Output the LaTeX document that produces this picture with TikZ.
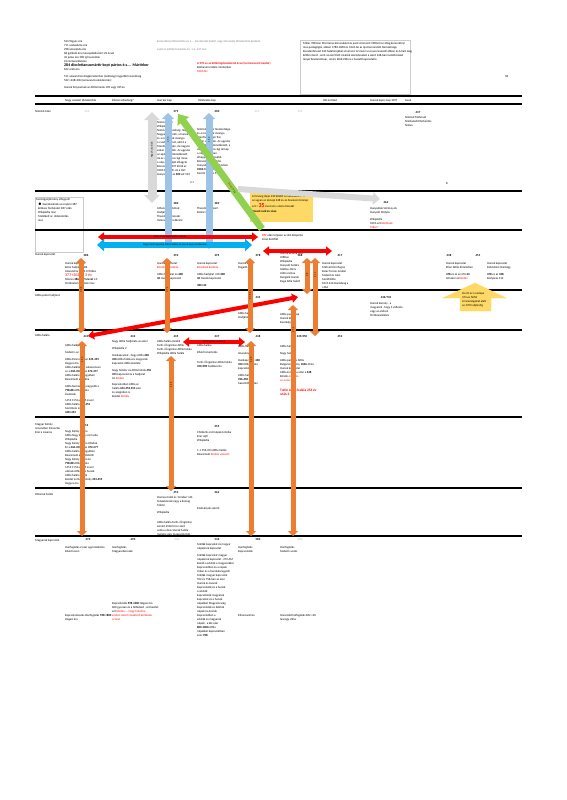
\documentclass[tikz,border=0pt]{standalone}
\usepackage{fontspec}
\setmainfont{Carlito}
\usetikzlibrary{arrows.meta}
\definecolor{orangeA}{HTML}{ED7D31}
\definecolor{blueA}{HTML}{9DC3E6}
\definecolor{cyanA}{HTML}{00B0F0}
\definecolor{greenA}{HTML}{92D050}
\definecolor{greyA}{HTML}{D9D9D9}
\definecolor{yellowA}{HTML}{FFD966}
\definecolor{redA}{HTML}{FF0000}
\newcommand\tinyf{\fontsize{3}{4}\selectfont}

\begin{document}
\begin{tikzpicture}[x=1pt,y=-1pt,
        bar/.style={line width=2.4pt, black},
        thinbar/.style={line width=1.5pt, black},
        txt/.style={anchor=north west, inner sep=0pt, align=left, font=\tinyf},
        yr/.style={anchor=base, inner sep=0pt, font=\tinyf\bfseries},
        gyr/.style={anchor=base, inner sep=0pt, font=\tinyf, text=gray!60},
        rtxt/.style={txt, text=redA},
        orangearr/.style={line width=5pt, draw=orangeA,
          {Triangle[width=10pt,length=5pt]}-{Triangle[width=10pt,length=5pt]}},
        bluearr/.style={line width=7pt, draw=blueA,
          {Triangle[width=12pt,length=6pt]}-{Triangle[width=12pt,length=6pt]}},
        redarr/.style={line width=4pt, draw=redA,
          {Triangle[width=9pt,length=6pt]}-{Triangle[width=9pt,length=6pt]}},
        intext/.style={inner sep=0pt, font=\fontsize{2.5}{3}\selectfont},
        ]
        \useasboundingbox (0,0) rectangle (566,800);

        % header
        \node (eras) [txt] at (64,40) {523 Tógyes éra\\711 szabadulás éra\\298 amszánda éra\\
          68 gyilkoló éra mesepaládismert 22 évvel\\45 julius éra 300 ig hasonlóak\\0 krisztusszületése\\
          {\fontsize{4}{5}\selectfont\bfseries 284 diocletianusmártír kopt pártos é.s.... Mártírkor}\\
          622 arab éra\\[3pt]511 alexandriai világkorszámítás (zsidóság) nagyobb hasonlóság\\
          532 +248+284 (annuszulis ekvidenciás)\\[3pt]Hunok fenyesének az Attila halála 109 vagy 335 év};
        \node (note) [txt, text=gray] at (157,40) {keresztényi időszámítás és a ... leszámolás hadát, vagy elnevezés időszámítás kezdete};
        \node (note2) [txt, text=gray] at (157,48) {sajat az juttató hivatalos év. 1.e. 147 évn};
        \node (rednote) [rtxt, font=\tinyf\bfseries] at (197,62) {A 970-es az kötéstégdatoskonid évvel (az összevont kezdet)};
        \node (rednote2) [txt] at (197,66) {Kézhasznú tétele mindenkor};
        \node (rednote3) [rtxt] at (197,70) {1000 AH};
        \draw[gray!40] (300,40) rectangle (410,94);
        \node (box) [txt] at (303,42) {Miller 398-ban Marcianus kizsaruként és pont Ammiant 398-ból az átlag keresztényi\\
          rész-pedagógiai, abban 1780-1800 és 1024-be az újat lemondott Nemzetsége\\
          Konstantinuszt 340 hatalomjábal a hamvet 12 évvel a uccsai nevezett abban és 6 halt meg\\
          kétfeni teret , amit az ezért lett elvárók szerzeteseket a szent 248-ban tudottrésszel\\
          lenyerbeszámolásai , amire több 238-ra a hasadt kapcsolatra};
        \node (n58) [txt] at (505,75) {58};

        % top double bar
        \draw[bar] (35,96) -- (522,96);
        \draw[bar] (35,104) -- (522,104);
        \node (h1) [txt] at (65,99) {Nagy császári időszámítás};
        \node (h2) [txt] at (112,99) {Római szövetség?};
        \node (h3) [txt] at (157,99) {Hun kor kap};
        \node (h4) [txt] at (198,99) {Változatos kap};
        \node (h5) [txt] at (323,99) {Hét évtized};
        \node (h6) [txt] at (370,99) {Hunok kapcs kap 1097};
        \node (h7) [txt] at (405,99) {Avuk};

        % row 1
        \node (r1) [txt] at (35,110) {Nimród isten};
        \node (y343) [gyr] at (87,112) {343};
        \node (y375) [yr] at (176,112) {375};
        \node (y400) [yr] at (217,112) {400};
        \node (y410) [gyr] at (257,112) {410};
        \node (y423) [gyr] at (300,112) {423};
        \node (y437) [yr] at (418,113) {437};
        \node (t437) [txt] at (405,116) {Nimród Mahmud\\Nimbuledi Khoherdes\\Nimes};
        \node (t375) [txt] at (157,121) {Nimród isten\\Wikipédia\\Nimród Nemzetség: Nagyon\\Nagyanyó: Enéh, a hunok\\
          és a magyarok ősanyja\\a csodaszarvast, akit ő a\\Meotisz földjén, de nagyon\\sokan szerették. Az ugyanis\\
          az apáknál eltemetkezett\\de ez a szép és régi mese\\a nép őshazáját elhagyta\\Borsod-ban 397 körül az\\
          1000 AD előtt, Az a tört\\Hunyadi hát az {\bfseries 400} ezt 533};
        \node (t400) [txt] at (197,128) {Nimród Hunor Nemzetsége\\és a magyarok ősanyja\\Meotisz, Magor fiai\\
          sokan szerették. Az ugyanis\\az apáknál eltemetkezett, a\\de ez a szép és régi ünnep\\a nép Szkítiában\\
          elhagyták. A tovább\\Borsod-ban Levédia\\Hunyadi ezt az 533 évben\\{\bfseries 1000} 400 ez 533\\
          Szerint az {\bfseries 4} és 533 {\color{redA}(35)}};
        \node (n41) [txt] at (190,181) {4 1};

        % row 2
        \draw[bar] (35,191) -- (522,191);
        \node (n8) [txt] at (446,182) {8};
        \draw[gray!40] (35,197) rectangle (83,252);
        \node (r2) [txt] at (36,198) {Szerzőgyűjtemény elfogyott};
        \node (t2box) [txt] at (38,203) {$\bullet$ Szerzőseknek az enyémi 387\\kétéves fordulatot 387 után\\
          Wikipédia rész\\Mellékelt sz. időszámítás\\rész};
        \node (y380) [yr] at (176,204) {380};
        \node (t380) [txt] at (157,207) {Athanariksz Gótok\\Hadjárat\\Theodosius császár\\Valens/Gothia Bizánc};
        \node (y389) [yr] at (217,204) {389};
        \node (t389) [txt] at (197,207) {Theodosius Szent\\Bizánci rész};
        \node (y462) [yr] at (386,203) {462};
        \node (t462) [txt] at (370,207) {Hunyadiak Szirmay-ok\\Hunyadi Mátyás\\[3pt]Wikipédia\\
          1001-ezt {\color{redA}Kérdések}\\{\color{redA}Mikor?}};
        \draw[fill=yellowA, draw=yellowA] (250,193) rectangle (312,221);
        \node (ybox) [txt] at (252,195) {A farsang ideje 430 között az időszakban , ebben\\
          az ugyan az ünnepi 248 és az összevont ünnep\\[1pt]
          ezt = {\fontsize{6}{6}\selectfont\bfseries\color{redA}35} évet az is a kora hosszát\\[1pt]
          {\bfseries Húsvét cuik és vissz.}};

        % row 3
        \draw[bar] (35,230) -- (522,230);
        \node (t377) [txt] at (262,234) {{\color{redA}\bfseries 377} után teljesen az idő-központú\\Zeno Konflikt};
        \node (r3) [txt] at (35,253) {Hunok kapcsolat};
        \node (y386) [yr] at (86,256) {386};
        \node (y392) [yr] at (176,256) {392};
        \node (y395) [yr] at (217,256) {395};
        \node (y378) [yr] at (258,256) {378};
        \node (y388) [yr] at (300,256) {388};
        \node (y417) [yr] at (340,256) {417};
        \node (y438) [yr] at (449,256) {438};
        \node (y451) [yr] at (478,256) {451};
        \node (t386) [txt] at (65,262) {Hunok kapcsolat\\Kérai hadjárat 386\\Alexandria 386 413 Tőkés\\
          {\fontsize{4}{5}\selectfont\color{redA}377+3024 = 3 év}\\Sikeres {\bfseries 386+32,5 évvel} 1.0\\
          történelem kezdete rész};
        \node (t392) [txt] at (157,262) {Hunok kapcsolat\\{\color{redA}Kérdések kezdete}\\[3pt]
          Attila hadjárat és {\bfseries 408}\\{\bfseries 40} Hunok kapcsolat};
        \node (t395) [txt] at (197,262) {Hunok kapcsolat\\{\color{redA}Kérdések kezdete}\\[3pt]
          Attila hadjárat 410 {\bfseries 408}\\{\bfseries 40} Hunok kapcsolat\\[3pt]{\bfseries 380+40}};
        \node (t378) [txt] at (238,262) {Hunok kapcs\\Dagadó};
        \node (t388) [txt] at (280,252) {Hunok uralma alatt\\Ulfilász\\Wikipédia\\Hunyadi halálra\\Gótikus törzs\\
          Uldin és Rua\\Dengizik Hunok\\Ruga Atila halott};
        \node (t417) [txt] at (322,262) {Hunok kapcsolat\\Michael Dé Magna\\Kalaz Tarcan Jenkon\\Szabolt és Alan\\
          Szentföldre\\1041 446 Hunádság a\\+464};
        \node (t438) [txt] at (446,262) {Hunok kapcsolat\\Ellen Attila Kíméletlen\\[3pt]
          {\bfseries 478} ez ez ez 476 {\bfseries 44}\\tetszeni az {\color{redA}Kérdés}};
        \node (t451) [txt] at (487,262) {Hunok kapcsolat\\Rohodaim Hunkágy\\[3pt]
          {\bfseries 478} ez az {\bfseries 438}\\Kedyárás 412};

        % row 4
        \draw[bar] (35,290) -- (522,290);
        \node (r4) [txt] at (35,294) {Attila-palóc hadjárat};
        \node (y434) [yr] at (258,298) {434};
        \node (t434) [txt] at (238,312) {Attila hadj\\Hadjárat};
        \node (t434b) [txt] at (280,313) {Attila pusztítása\\Hunok között\\Rua Bulgária};
        \node (y436) [yr] at (386,298) {436/742};
        \node (t436) [txt] at (370,302) {Hunok komoly , a\\magyarok , hogy 3 változás\\vagy az andreli\\történeszületés};
        \draw[fill=yellowA, draw=yellowA] (443,298) -- (475,283) -- (506,298) -- (491,298)
          -- (491,311) -- (460,311) -- (460,298) -- cycle;
        \node (yarr) [txt] at (462,292) {Ha 45 ez a szelepe\\474-es felhő\\A tanulságokat alatt\\az 470 hadjáratig};

        % row 5
        \draw[bar] (35,330) -- (522,330);
        \node (r5) [txt] at (35,334) {Attila halála};
        \node (y441) [yr] at (86,337) {441};
        \node (y442) [yr] at (133,337) {442};
        \node (y445) [yr] at (176,337) {445};
        \node (y447) [yr] at (217,337) {447};
        \node (y448) [yr] at (258,337) {448};
        \node (y450) [yr] at (302,337) {449/450};
        \node (y452) [yr] at (340,337) {452};
        \node (t441) [txt] at (65,344) {Attila halála\\[3pt]Szabolcs az\\[3pt]
          Attila Pannoniában {\bfseries 445-453}\\Hegyes éra\\Attila halálára és sokszorosan\\
          az a {\bfseries 446-453} et az {\bfseries 472-477}\\Attila halála a megyében\\Beszámoló a halálra\\[3pt]
          Attila Nemzetség nagyobb a\\{\bfseries 798-88} Attila halála\\Ásatások\\[2pt]
          1453 1152 után 5 évvel\\Attila halála {\bfseries 448-453}\\Szerintem és a\\{\bfseries 448+453}};
        \node (t442) [txt] at (112,340) {Nagy Attila hadjárata az ezzel\\[3pt]Wikipédia 2\\[3pt]
          Hunkapcsolat , hogy Attila {\bfseries 448}\\{\bfseries 450} Attila halála és magyarok\\
          kapcsolat Attila kezdete\\[3pt]Nagy Sándor és Attila halála {\bfseries 450}\\
          {\bfseries 453} kapcsolat és a hadjárat\\Az {\color{redA}Kérdés}\\[2pt]
          Kapcsolatban Attila az\\halála {\bfseries 443-453} {\bfseries 453} ezer\\és alapjában is\\
          Kezdet {\color{redA}Kérdés}};
        \node (t445) [txt] at (157,340) {Attila halála Vandál\\Tarih-i Üngürüsz Attila\\
          Tarih-i Üngürüsz Attila halála\\Wikipédia Attila halála};
        \node (t448) [txt] at (197,344) {Attila halála\\[3pt]Rövid ismertetés\\[6pt]
          Tarih-i Üngürüsz Attila halála\\{\bfseries 450-998} halálával és};
        \node (t450) [txt] at (238,345) {Attila halál\\[3pt]Jövevény\\[3pt]Hunkapcsolat {\bfseries 448}\\
          {\bfseries 450} Attila halála\\kapcsolatba\\[3pt]Attila halála\\{\bfseries 766-450}\\hasonlíthatatlan};
        \node (t452) [txt] at (280,345) {Attila halála\\[3pt]Nagy halála\\[3pt]
          Attila palotája Attila\\Bulgária törvény {\bfseries 1046} 40 év\\Hunok kapcsolat\\
          Attila és halála után a {\bfseries 448}\\Kérdés {\color{redA}Attila és}\\{\color{redA}az a rész}\\[6pt]
          {\fontsize{3.5}{4.5}\selectfont\bfseries\color{redA}Tuhle Attila halála 256 év}\\
          {\fontsize{3.5}{4.5}\selectfont\bfseries\color{redA}után 2}};

        % row 6
        \draw[bar] (35,417) -- (522,417);
        \node (r6) [txt] at (35,423) {Magyar Károly\\Ismeretlen Dinasztia\\Ezer a zavaros};
        \node (y454) [yr] at (86,426) {454};
        \node (y455) [yr] at (217,427) {455};
        \node (t454) [txt] at (65,430) {Nagy Károly halála\\Attila Nagy Károly és Csaba\\Wikipédia\\
          Nagy Károly halála Utódok\\Ez a {\bfseries 446-453} és az {\bfseries 472-477}\\Attila halála a megyében\\
          Beszámoló a {\bfseries 448} között\\Nagy Károly halála és\\{\bfseries 798-88} Attila halála\\
          1453 1152 után 5 évvel\\utánuk Attila és a hunok\\Attila halála utóda\\
          Kezdet és Nagy Károly {\bfseries 453-455}\\Hegyes éra};
        \node (t455) [txt] at (197,431) {Childerik a térnépek krónika\\Ezer rejti\\Wikipédia\\[6pt]
          1-1 956 453 Attila halála\\Beszámoló {\color{redA}Kérdés visszont}};

        % row 7
        \draw[thinbar] (35,488) -- (522,488);
        \node (r7) [txt] at (35,493) {Ottonok halála};
        \node (y453) [yr] at (176,493) {453};
        \node (y462b) [yr] at (217,493) {462};
        \node (t453) [txt] at (157,496) {Hamvas halál és 'minden' idő\\Tetszetésnek nagy a Kamag\\Mérté\\[3pt]
          Wikipédia\\[6pt]Attila halála Tarih-i Üngürüsz\\szerint 4536 Error amit\\azóta a dzas Szerak halála\\
          mérete vagy magyarok felé};
        \node (t462b) [txt] at (197,507) {Kiadványok szerint};

        % row 8
        \draw[thinbar] (35,536) -- (522,536);
        \node (r8) [txt] at (35,539) {Magyarok kapcsolat};
        \node (y470) [yr] at (88,540) {470};
        \node (y490) [yr] at (133,540) {490};
        \node (y500) [gyr] at (177,540) {500};
        \node (y536) [yr] at (217,540) {536};
        \node (y580) [yr] at (258,540) {580};
        \node (y600) [gyr] at (300,540) {600};
        \node (t470) [txt] at (65,546) {Honfoglalás 2 ezer agyrozsálónia\\Rövid lovon};
        \node (t490) [txt] at (112,546) {Honfoglalás\\Magyarellenesek};
        \node (t536) [txt] at (197,543) {Szkíták kapcsolat és magyar\\népeknek kapcsolat\\[3pt]
          Szkíták kapcsolat magyar\\népeknek kapcsolat , 272 AM\\Kezdő a szkíták a magyarokkal\\
          Kapcsolatban és a népek\\rokon és a hunokkal együtt\\Szkíták magyar kapcsolat\\
          552 és 758-ban az ezer\\Hunok és Avarok\\Kapcsolatok és a hunok\\a szkíták\\
          kapcsolatok magyarok\\kapcsolat és a hunok\\népekkel Magyarország\\
          Kapcsolatok és Szkíták\\népek és Avarok\\Kapcsolatban a\\
          szkíták és magyarok\\népek , a két ezer\\{\bfseries 800-1000} Attila\\
          népekkel kapcsolatban\\ezer {\bfseries 958}};
        \node (t580) [txt] at (238,546) {Honfoglalás\\Kapcsolatok};
        \node (t600) [txt] at (280,546) {Honfoglalás\\Szabolcs vezér};
        \node (t490b) [txt] at (112,602) {Kapcsolódás {\bfseries 598 +800} Hágesi éra\\
          600 gyorsan és a felfedező , ezt kezdet\\ezt {\color{redA}Kérdés} ... {\color{redA}Nagy hatalmú}\\
          {\color{redA}ezután ismét visszatérő kérdések}\\{\color{redA}a/nem}};
        \node (t470b) [txt] at (65,614) {Kapcsolatosulás Honfoglalás {\bfseries 598 +800}\\Hágesi éra};
        \node (t580b) [txt] at (238,614) {Kihancselmés};
        \node (t600b) [txt] at (280,614) {Honvédet kalfoglalás 822 +20\\lasnagy Ulfas};

        % arrows
        \coordinate (g1) at (152,112);
        \coordinate (g2) at (152,203);
        \draw[line width=9pt, draw=greyA,
          {Triangle[width=15pt,length=8pt]}-{Triangle[width=15pt,length=8pt]}] (g1) -- (g2);
        \node (gtext) [intext, rotate=90] at (152,150) {Nagy hunok idő};
        \coordinate (b1a) at (168,113);
        \coordinate (b1b) at (168,249);
        \coordinate (b2a) at (209,113);
        \coordinate (b2b) at (209,249);
        \draw[bluearr] (b1a) -- (b1b);
        \draw[bluearr] (b2a) -- (b2b);
        \node (b1text) [intext, rotate=90] at (168,140) {4 5 3};
        \node (b2text) [intext, rotate=90] at (209,140) {4 6 0};
        \coordinate (gr1) at (178,114);
        \coordinate (gr2) at (262,229);
        \draw[line width=7pt, draw=greenA, {Triangle[width=14pt,length=9pt]}-] (gr1) -- (gr2);
        \node (grtext) [intext, rotate=-54] at (232,188) {{\color{redA}Kérdés} 453};
        \coordinate (ga1) at (238,189);
        \coordinate (ga2) at (380,199);
        \draw[line width=6pt, draw=greyA, -{Triangle[width=12pt,length=7pt]}] (ga1) -- (ga2);
        \coordinate (ra1) at (98,237);
        \coordinate (ra2) at (258,237);
        \draw[redarr] (ra1) -- (ra2);
        \node (ratext) [intext] at (170,237) {Kelet-római kapcsolat és Hunok};
        \coordinate (ca1) at (97,245);
        \coordinate (ca2) at (252,245);
        \draw[line width=6pt, draw=cyanA,
          {Triangle[width=12pt,length=7pt]}-{Triangle[width=12pt,length=7pt]}] (ca1) -- (ca2);
        \node (catext) [intext] at (175,245) {Nagy Szent kapcsolat Attila kezdete és Hunok kapcsolat kezdete};
        \coordinate (rb1) at (263,251);
        \coordinate (rb2) at (332,251);
        \draw[redarr] (rb1) -- (rb2);
        \coordinate (rc1) at (88,336);
        \coordinate (rc2) at (298,297);
        \draw[redarr] (rc1) -- (rc2);
        \coordinate (rd1) at (183,342);
        \coordinate (rd2) at (245,342);
        \draw[redarr] (rd1) -- (rd2);
        \node (rdtext) [intext] at (214,342) {Attila halála és Hunok};

        \coordinate (o1a) at (81,258);  \coordinate (o1b) at (81,333);
        \coordinate (o2a) at (82,341);  \coordinate (o2b) at (82,536);
        \coordinate (o3a) at (167,258); \coordinate (o3b) at (167,333);
        \coordinate (o4a) at (171,356); \coordinate (o4b) at (171,491);
        \coordinate (o5a) at (250,258); \coordinate (o5b) at (250,333);
        \coordinate (o6a) at (251,341); \coordinate (o6b) at (251,536);
        \coordinate (o7a) at (307,258); \coordinate (o7b) at (307,294);
        \coordinate (o8a) at (315,258); \coordinate (o8b) at (315,336);
        \coordinate (o9a) at (293,305); \coordinate (o9b) at (293,536);
        \draw[orangearr] (o1a) -- (o1b);
        \draw[orangearr] (o2a) -- (o2b);
        \draw[orangearr] (o3a) -- (o3b);
        \draw[orangearr] (o4a) -- (o4b);
        \draw[orangearr] (o5a) -- (o5b);
        \draw[orangearr] (o6a) -- (o6b);
        \draw[orangearr] (o7a) -- (o7b);
        \draw[orangearr] (o8a) -- (o8b);
        \draw[orangearr] (o9a) -- (o9b);
        \node (o1text) [intext, rotate=90] at (81,290) {3 8 6};
        \node (o2text) [intext, rotate=90] at (82,360) {4 5 3};
        \node (o3text) [intext, rotate=90] at (167,290) {3 9 2};
        \node (o4text) [intext, rotate=90] at (171,385) {4 4 5};
        \node (o5text) [intext, rotate=90] at (250,295) {3 7 8 4 1};
        \node (o6text) [intext, rotate=90] at (251,360) {4 4 8};
        \node (o7text) [intext, rotate=90] at (307,275) {3 8};
        \node (o8text) [intext, rotate=90] at (315,275) {4 1 7};
        \node (o9text) [intext, rotate=90] at (293,330) {4 5 2};
    \end{tikzpicture}
\end{document}
